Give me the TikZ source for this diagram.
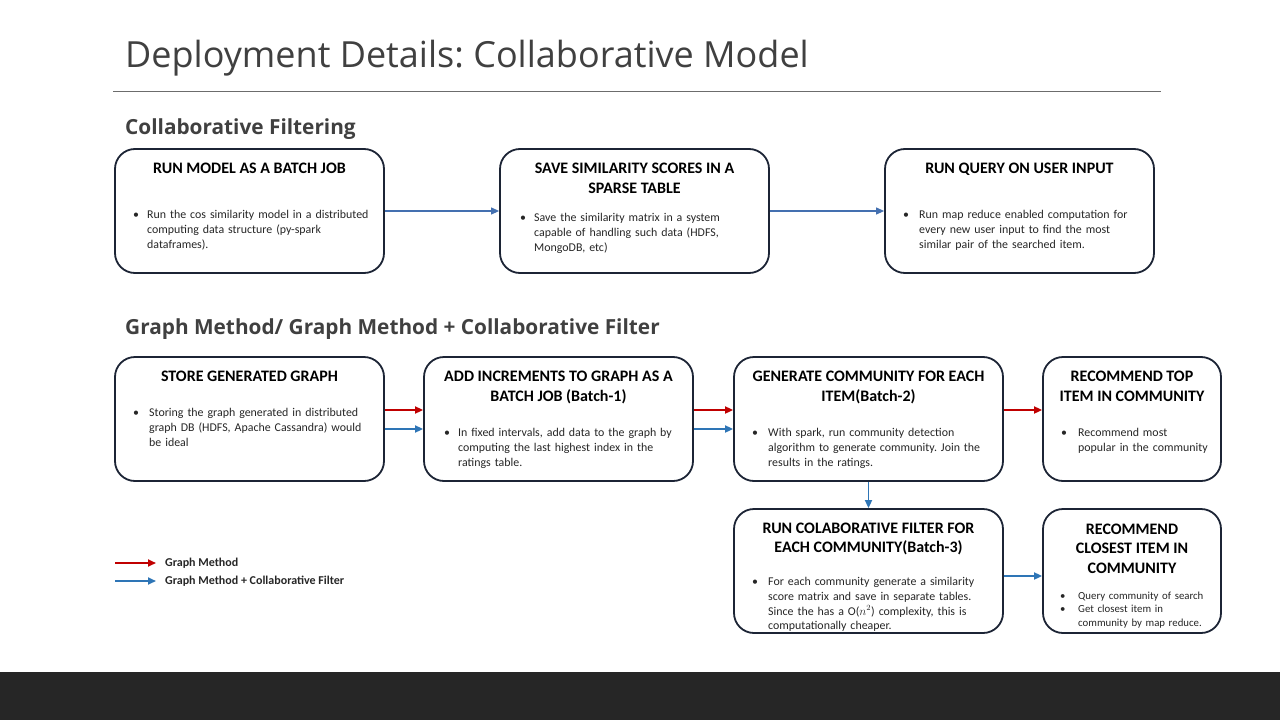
\documentclass[tikz,border=0pt]{standalone}
\usepackage{fontspec}
\setmainfont{Carlito}
\newfontfamily\titlefont{Open Sans}
\usetikzlibrary{arrows.meta,calc}
\definecolor{boxline}{HTML}{1C2435}
\definecolor{headgray}{HTML}{404040}
\definecolor{bodytext}{HTML}{262626}
\definecolor{arrred}{HTML}{C00000}
\definecolor{arrblue}{HTML}{2E75B6}
\definecolor{arrblueA}{HTML}{4470B0}
\definecolor{barcol}{HTML}{262626}
\frenchspacing
\newcommand{\bitem}[2][14pt]{\noindent\makebox[#1][l]{\textbullet}\parbox[t]{\dimexpr\linewidth-#1\relax}{\raggedright #2}\par}
\tikzset{
  card/.style={draw=boxline, line width=1.8pt, rounded corners=20pt, fill=white, inner sep=0pt},
  cardtitle/.style={anchor=north, align=center, inner sep=0pt, font=\fontsize{16}{19.5}\selectfont\bfseries, text=black},
  cardbody/.style={anchor=north west, inner sep=0pt, text width=#1, font=\fontsize{11.9}{14.8}\selectfont, text=bodytext},
  redarrow/.style={draw=arrred, line width=1.7pt, -{Triangle[length=8pt,width=7pt]}},
  bluearrow/.style={draw=arrblue, line width=1.7pt, -{Triangle[length=8pt,width=7pt]}},
  bluearrowA/.style={draw=arrblueA, line width=1.1pt, -{Triangle[length=8pt,width=7pt]}},
  sechead/.style={anchor=base west, inner sep=0pt, font=\titlefont\fontsize{20.8}{25}\selectfont\bfseries, text=headgray},
  legendtext/.style={anchor=west, inner sep=0pt, font=\fontsize{12}{14}\selectfont\bfseries, text=bodytext}
}
\begin{document}
\begin{tikzpicture}[x=1pt,y=-1pt]
\useasboundingbox (0,0) rectangle (1280,720);
\fill[white] (0,0) rectangle (1280,720);
\fill[barcol] (0,672) rectangle (1280,720);

% title
\node[anchor=base west, inner sep=0pt, font=\titlefont\fontsize{36}{42}\selectfont, text=headgray] (title) at (125,67) {Deployment Details: Collaborative Model};
\draw[draw=gray!85!black, line width=0.9pt] (113,91) -- (1161,91);

\node[sechead] (h1) at (125,134) {Collaborative Filtering};
\node[sechead] (h2) at (125,334) {Graph Method/ Graph Method + Collaborative Filter};

% row 1
\node[card, minimum width=269pt, minimum height=124pt] (A) at (249.5,211) {};
\node[card, minimum width=269pt, minimum height=124pt] (B) at (634.5,211) {};
\node[card, minimum width=269pt, minimum height=124pt] (C) at (1019.5,211) {};

\node[cardtitle] (At) at (249.5,163) {RUN MODEL AS A BATCH JOB};
\node[cardbody=245pt] (Ab) at (133,210) {\bitem{Run the cos similarity model in a distributed\\computing data structure (py-spark\\dataframes).}};

\node[cardtitle] (Bt) at (634.5,163) {SAVE SIMILARITY SCORES IN A\\SPARSE TABLE};
\node[cardbody=245pt] (Bb) at (520,213) {\bitem{Save the similarity matrix in a system\\capable of handling such data (HDFS,\\MongoDB, etc)}};

\node[cardtitle] (Ct) at (1019.5,163) {RUN QUERY ON USER INPUT};
\node[cardbody=245pt] (Cb) at (903,210) {\bitem[16pt]{Run map reduce enabled computation for\\every new user input to find the most\\similar pair of the searched item.}};

\draw[bluearrowA] (A.east) -- (B.west);
\draw[bluearrowA] (B.east) -- (C.west);

% row 2
\node[card, minimum width=269pt, minimum height=124pt] (D) at (249.5,419) {};
\node[card, minimum width=269pt, minimum height=124pt] (E) at (558.5,419) {};
\node[card, minimum width=269pt, minimum height=124pt] (F) at (868.5,419) {};
\node[card, minimum width=178pt, minimum height=124pt] (G) at (1132,419) {};

\node[cardtitle] (Dt) at (249.5,371) {STORE GENERATED GRAPH};
\node[cardbody=245pt] (Db) at (133,408) {\bitem[16pt]{Storing the graph generated in distributed\\graph DB (HDFS, Apache Cassandra) would\\be ideal}};

\node[cardtitle] (Et) at (558.5,371) {ADD INCREMENTS TO GRAPH AS A\\BATCH JOB (Batch-1)};
\node[cardbody=245pt] (Eb) at (444,428) {\bitem{In fixed intervals, add data to the graph by\\computing the last highest index in the\\ratings table.}};

\node[cardtitle] (Ft) at (868.5,371) {GENERATE COMMUNITY FOR EACH\\ITEM(Batch-2)};
\node[cardbody=245pt] (Fb) at (752,428) {\bitem[16pt]{With spark, run community detection\\algorithm to generate community.  Join the\\results in the ratings.}};

\node[cardtitle] (Gt) at (1132,371) {RECOMMEND TOP\\ITEM IN COMMUNITY};
\node[cardbody=165pt] (Gb) at (1061,428) {\bitem[17pt]{Recommend most\\popular in the community}};

\draw[redarrow] ([yshift=9pt]D.east) -- ([yshift=9pt]E.west);
\draw[bluearrow] ([yshift=-10pt]D.east) -- ([yshift=-10pt]E.west);
\draw[redarrow] ([yshift=9pt]E.east) -- ([yshift=9pt]F.west);
\draw[bluearrow] ([yshift=-10pt]E.east) -- ([yshift=-10pt]F.west);
\draw[redarrow] ([yshift=9pt]F.east) -- ([yshift=9pt]G.west);

% row 3
\node[card, minimum width=269pt, minimum height=124pt] (H) at (868.5,571) {};
\node[card, minimum width=178pt, minimum height=124pt] (I) at (1132,571) {};

\node[cardtitle] (Ht) at (868.5,522.5) {RUN COLABORATIVE FILTER FOR\\EACH COMMUNITY(Batch-3)};
\node[cardbody=245pt] (Hb) at (752,577) {\bitem[16pt]{For each community generate a similarity\\score matrix and save in separate tables.\\Since the has a O($n^2$) complexity, this is\\computationally cheaper.}};

\node[cardtitle] (It) at (1132,523.5) {RECOMMEND\\CLOSEST ITEM IN\\COMMUNITY};
\node[cardbody=170pt, font=\fontsize{10.8}{13.5}\selectfont] (Ib) at (1060,591.5) {\bitem[18pt]{Query community of search}\bitem[18pt]{Get closest item in\\community by map reduce.}};

\draw[bluearrow] (F.south) -- (H.north);
\draw[bluearrow] ([yshift=-5pt]H.east) -- ([yshift=-5pt]I.west);

% legend
\coordinate (lr1) at (115,563);
\coordinate (lr2) at (156,563);
\coordinate (lb1) at (115,581);
\coordinate (lb2) at (156,581);
\draw[redarrow] (lr1) -- (lr2);
\draw[bluearrow] (lb1) -- (lb2);
\node[legendtext] (lt1) at (165,563) {Graph Method};
\node[legendtext] (lt2) at (165,581) {Graph Method + Collaborative Filter};
\end{tikzpicture}
\end{document}
